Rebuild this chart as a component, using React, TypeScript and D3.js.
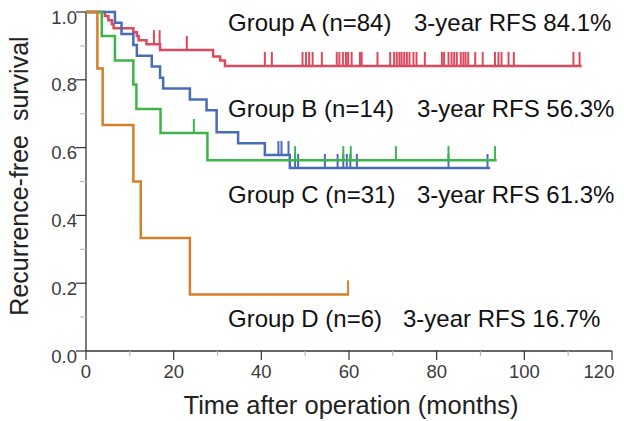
import React from "react";
import * as d3 from "d3";

// ---- Data ----
const xTicks = [0, 20, 40, 60, 80, 100, 120];
const yTicks = [0, 0.2, 0.4, 0.6, 0.8, 1.0];

// Group A (red, n=84)
const aTimes = [0, 4.3, 5.1, 5.9, 6.3, 10.8, 11.6, 12.0, 13.8, 16.9, 29.0, 30.6, 31.7];
const aSurv = [1, 0.988, 0.976, 0.964, 0.952, 0.94, 0.929, 0.917, 0.905, 0.888, 0.869, 0.857, 0.841];
const aCensor = [15.5, 16.8, 23.0, 40.8, 42.4, 49.4, 50.2, 50.9, 51.7, 53.8, 57.2, 57.8, 58.6, 59.3, 59.8, 60.6, 62.5, 62.9, 66.5, 69.4, 70.3, 70.9, 71.5, 72.0, 72.6, 73.2, 73.8, 74.7, 75.4, 77.3, 81.2, 81.7, 82.7, 83.4, 84.0, 84.6, 85.5, 86.1, 86.6, 87.2, 88.8, 90.5, 93.3, 94.1, 94.8, 96.4, 97.6, 111.2, 112.6];
const aEnd = 113.1;

// Blue curve (n=31)
const cTimes = [0, 6.6, 8.1, 10.8, 11.6, 15.0, 16.9, 17.6, 23.7, 27.5, 29.8, 34.7, 40.8, 46.5];
const cSurv = [1, 0.968, 0.935, 0.903, 0.871, 0.839, 0.806, 0.774, 0.742, 0.71, 0.645, 0.613, 0.578, 0.54];
const cCensor = [43.9, 44.6, 46.2, 47.7, 48.4, 54.5, 57.4, 58.7, 59.5, 60.3, 61.8, 82.7, 91.6];
const cEnd = 92.2;

// Green curve (n=14)
const bTimes = [0, 3.6, 6.6, 10.8, 11.5, 17.0, 27.7];
const bSurv = [1, 0.929, 0.857, 0.786, 0.714, 0.643, 0.563];
const bCensor = [24.6, 47.7, 58.7, 60.4, 70.7, 82.7, 93.3];
const bEnd = 93.7;

// Orange curve (n=6)
const dTimes = [0, 2.6, 3.8, 10.8, 12.5, 23.7];
const dSurv = [1, 0.833, 0.667, 0.5, 0.333, 0.167];
const dCensor = [59.8];
const dEnd = 60;

const labelGroups = ["Group A (n=84)", "Group B (n=14)", "Group C (n=31)", "Group D (n=6)"];
const labelRFS = ["3-year RFS 84.1%", "3-year RFS 56.3%", "3-year RFS 61.3%", "3-year RFS 16.7%"];

const W = 624;
const H = 421;
const x = d3.scaleLinear().domain([0, 120]).range([86, 612]);
const y = d3.scaleLinear().domain([0, 1]).range([351, 12]);

const FONT = "'Liberation Sans', Arial, sans-serif";

type Curve = { times: number[]; surv: number[]; censor: number[]; end: number; color: string };

const curves: Curve[] = [
  { times: aTimes, surv: aSurv, censor: aCensor, end: aEnd, color: "#dc4a5c" },
  { times: cTimes, surv: cSurv, censor: cCensor, end: cEnd, color: "#4a6cb8" },
  { times: bTimes, surv: bSurv, censor: bCensor, end: bEnd, color: "#3db54a" },
  { times: dTimes, surv: dSurv, censor: dCensor, end: dEnd, color: "#d67f2b" },
];

function survAt(c: Curve, t: number) {
  let s = c.surv[0];
  for (let i = 0; i < c.times.length; i++) {
    if (c.times[i] <= t) s = c.surv[i];
  }
  return s;
}

const line = d3
  .line<[number, number]>()
  .x((d) => x(d[0]))
  .y((d) => y(d[1]))
  .curve(d3.curveStepAfter);

export default function App() {
  const minorY = d3.range(0.1, 1.0, 0.2);
  const minorX = d3.range(10, 120, 20);
  const labelY = [31, 117, 203, 327];
  const rfsX = [414, 417, 417, 403];
  return (
    <svg
      width={W}
      height={H}
      style={{ position: "absolute", left: 0, top: 0, background: "#fff" }}
      fontFamily={FONT}
    >
      {/* axes */}
      <line x1={x(0)} x2={x(0)} y1={y(1)} y2={y(0)} stroke="#333" strokeWidth={1.3} />
      <line x1={x(0)} x2={x(120)} y1={y(0)} y2={y(0)} stroke="#333" strokeWidth={1.3} />
      {yTicks.map((v) => (
        <g key={"yt" + v}>
          <line x1={x(0) - 10} x2={x(0)} y1={y(v)} y2={y(v)} stroke="#333" strokeWidth={1.2} />
          <text x={x(0) - 9} y={y(v) + 11.5} textAnchor="end" fontSize={18.5} fill="#3a3a3a">
            {v.toFixed(1)}
          </text>
        </g>
      ))}
      {minorY.map((v) => (
        <line key={"ym" + v} x1={x(0) - 6} x2={x(0)} y1={y(v)} y2={y(v)} stroke="#bbb" strokeWidth={1.2} />
      ))}
      {xTicks.map((t) => (
        <g key={"xt" + t}>
          <line x1={x(t)} x2={x(t)} y1={y(0)} y2={y(0) + 9} stroke="#333" strokeWidth={1.2} />
          <text
            x={t === 120 ? x(t) - 13 : x(t)}
            y={y(0) + 27}
            textAnchor="middle"
            fontSize={18.5}
            fill="#3a3a3a"
          >
            {t}
          </text>
        </g>
      ))}
      {minorX.map((t) => (
        <line key={"xm" + t} x1={x(t)} x2={x(t)} y1={y(0)} y2={y(0) + 5} stroke="#bbb" strokeWidth={1.2} />
      ))}
      <text x={351} y={414} textAnchor="middle" fontSize={25.5} fill="#222">
        Time after operation (months)
      </text>
      <text
        transform={`translate(28, ${176}) rotate(-90)`}
        textAnchor="middle"
        fontSize={25}
        fill="#222"
        style={{ whiteSpace: "pre" }}
      >
        {"Recurrence-free  survival"}
      </text>

      {/* curves */}
      {curves.map((c, i) => {
        const pts: [number, number][] = c.times.map((t, j) => [t, c.surv[j]] as [number, number]);
        pts.push([c.end, c.surv[c.surv.length - 1]]);
        return (
          <g key={"c" + i}>
            <path d={line(pts) || ""} fill="none" stroke={c.color} strokeWidth={2.5} />
            {c.censor.map((t, k) => {
              const s = survAt(c, t);
              return (
                <line
                  key={k}
                  x1={x(t)}
                  x2={x(t)}
                  y1={y(s)}
                  y2={y(s) - 14}
                  stroke={c.color}
                  strokeWidth={2}
                />
              );
            })}
          </g>
        );
      })}

      {/* labels */}
      {labelGroups.map((g, i) => (
        <g key={"l" + i}>
          <text x={228} y={labelY[i]} fontSize={24} fill="#111">
            {g}
          </text>
          <text x={rfsX[i]} y={labelY[i]} fontSize={24} fill="#111">
            {labelRFS[i]}
          </text>
        </g>
      ))}
    </svg>
  );
}
